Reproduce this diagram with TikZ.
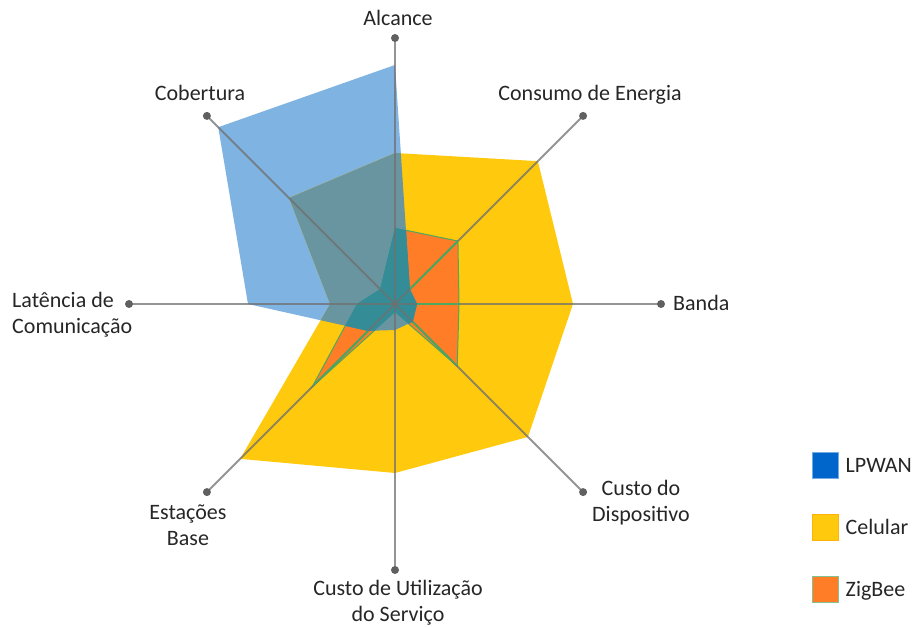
\documentclass[tikz,border=0pt]{standalone}
\usepackage{fontspec}
\setmainfont{Carlito}
\usetikzlibrary{positioning}

\definecolor{lpwan}{RGB}{0,102,204}
\definecolor{lpwanlight}{RGB}{127,179,226}
\definecolor{celular}{RGB}{255,201,14}
\definecolor{zigbee}{RGB}{255,125,38}
\definecolor{mixgrey}{RGB}{105,149,160}
\definecolor{mixteal}{RGB}{52,141,150}
\definecolor{zigline}{RGB}{76,168,96}
\definecolor{axisgrey}{RGB}{112,112,112}
\definecolor{dotgrey}{RGB}{96,96,96}

% series outlines (polar, radius in pt)
\def\lpwanpath{(90:239) -- (45:21) -- (0:22) -- (-45:25) -- (-90:26) -- (-135:38) -- (180:147) -- (135:250) -- cycle}
\def\celpath{(90:151) -- (45:202) -- (0:178) -- (-45:188) -- (-90:169) -- (-135:219) -- (180:65) -- (135:150) -- cycle}
\def\zigpath{(90:76) -- (45:89) -- (0:64) -- (-45:88) -- (-90:8) -- (-135:117) -- (180:38) -- (135:21) -- cycle}
\newcommand\radarspokes[1]{%
  \draw[#1] (aN) -- (aS);
  \draw[#1] (aNE) -- (aSW);
  \draw[#1] (aE) -- (aW);
  \draw[#1] (aSE) -- (aNW);}

\begin{document}
\begin{tikzpicture}[x=1pt,y=1pt,
  spoke/.style={line width=2pt, draw=axisgrey, opacity=0.75},
  greenspoke/.style={line width=2pt, draw=zigline},
  tipdot/.style={fill=dotgrey},
  lbl/.style={inner sep=0pt, font=\fontsize{22}{26}\selectfont, text=black!85},
  keybox/.style={minimum size=26pt, inner sep=0pt, line width=1pt}]
\useasboundingbox (0,0) rectangle (912,628);
\begin{scope}[shift={(395,324)}]
\coordinate (c) at (0,0);
\coordinate (aN) at (90:266);
\coordinate (aNE) at (45:266);
\coordinate (aE) at (0:266);
\coordinate (aSE) at (-45:266);
\coordinate (aS) at (-90:266);
\coordinate (aSW) at (-135:266);
\coordinate (aW) at (180:266);
\coordinate (aNW) at (135:266);
% filled series
\fill[lpwanlight] \lpwanpath;
\fill[celular] \celpath;
\filldraw[fill=zigbee, draw=zigline, line width=1pt] \zigpath;
% LPWAN over the others
\begin{scope}
\clip \lpwanpath;
\fill[mixgrey] \celpath;
\fill[mixteal] \zigpath;
\end{scope}
\radarspokes{spoke}
\begin{scope}
\clip \zigpath;
\radarspokes{greenspoke}
\clip \lpwanpath;
\fill[mixteal] \zigpath;
\radarspokes{spoke}
\end{scope}
\fill[tipdot] (aN) circle (4);
\fill[tipdot] (aNE) circle (4);
\fill[tipdot] (aE) circle (4);
\fill[tipdot] (aSE) circle (4);
\fill[tipdot] (aS) circle (4);
\fill[tipdot] (aSW) circle (4);
\fill[tipdot] (aW) circle (4);
\fill[tipdot] (aNW) circle (4);
\end{scope}
% axis labels
\node[lbl, anchor=base] (tAlc) at (398,602) {Alcance};
\node[lbl, anchor=base] (tEne) at (590,527) {Consumo de Energia};
\node[lbl, anchor=base] (tCob) at (200,527) {Cobertura};
\node[lbl, anchor=base west] (tBan) at (673,317) {Banda};
\node[lbl, align=center, anchor=base] (tDis) at (641,106) {Custo do\\Dispositivo};
\node[lbl, align=center, anchor=base] (tSer) at (398,6) {Custo de Utilização\\do Serviço};
\node[lbl, align=center, anchor=base] (tEst) at (188,82) {Estações\\Base};
\node[lbl, align=left, anchor=base west] (tLat) at (12,294) {Latência de\\Comunicação};
% legend
\node[keybox, fill=lpwan, draw=lpwan!55] (kLpw) at (825,162) {};
\node[keybox, fill=celular, draw=celular!70!orange] (kCel) at (825,100) {};
\node[keybox, fill=zigbee, draw=zigline!70] (kZig) at (825,38) {};
\node[lbl, text height=14pt, text depth=0pt, right=7pt of kLpw] (tLpw) {LPWAN};
\node[lbl, text height=14pt, text depth=0pt, right=7pt of kCel] (tCel) {Celular};
\node[lbl, text height=14pt, text depth=0pt, right=7pt of kZig] (tZig) {ZigBee};
\end{tikzpicture}
\end{document}
